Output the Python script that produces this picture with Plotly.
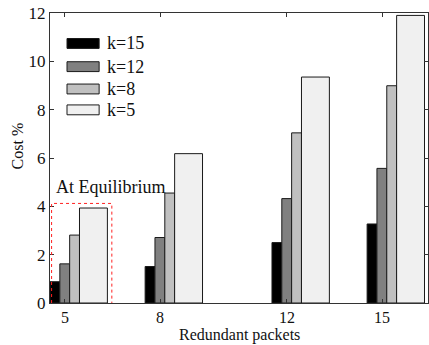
import plotly.graph_objects as go

# Redundant packets on the x axis, cost (%) per coding parameter k
redundant = [5, 8, 12, 15]
series_names = ["k=15", "k=12", "k=8", "k=5"]
cost_k15 = [0.88, 1.51, 2.50, 3.27]
cost_k12 = [1.62, 2.71, 4.32, 5.57]
cost_k8 = [2.81, 4.55, 7.04, 8.99]
cost_k5 = [3.93, 6.18, 9.35, 11.90]
y_ticks = [0, 2, 4, 6, 8, 10, 12]

series = [cost_k15, cost_k12, cost_k8, cost_k5]
fills = ["#000000", "#808080", "#c0c0c0", "#f0f0f0"]
offsets = [-0.47, -0.16, 0.15, 0.46]
widths = [0.31, 0.31, 0.31, 0.88]

FONT = "Liberation Serif, Times New Roman, serif"

fig = go.Figure()
for name, vals, col, off, w in zip(series_names, series, fills, offsets, widths):
    fig.add_trace(go.Bar(
        x=redundant, y=vals, name=name,
        offset=off, width=w,
        marker=dict(color=col, line=dict(color="#1a1a1a", width=1)),
        showlegend=False,
    ))

# hand-drawn legend with wide swatches
legend_y = [0.895, 0.815, 0.738, 0.666]
for name, col, yc in zip(series_names, fills, legend_y):
    fig.add_shape(type="rect", xref="paper", yref="paper",
                  x0=0.045, x1=0.13, y0=yc - 0.017, y1=yc + 0.017,
                  fillcolor=col, line=dict(color="#1a1a1a", width=1))
    fig.add_annotation(xref="paper", yref="paper", x=0.145, y=yc,
                       text=name, showarrow=False, xanchor="left",
                       yanchor="middle",
                       font=dict(family=FONT, size=18, color="#111"))

# equilibrium region marker (open at the bottom, on the axis)
eq_x0, eq_x1, eq_top = 4.58, 6.48, 4.12
fig.add_shape(type="path", xref="x", yref="y",
              path=f"M {eq_x0},0 L {eq_x0},{eq_top} L {eq_x1},{eq_top} L {eq_x1},0",
              line=dict(color="#ff2020", width=1, dash="dot"),
              layer="above")
fig.add_annotation(xref="x", yref="y", x=4.66, y=4.3,
                   text="At Equilibrium", showarrow=False,
                   xanchor="left", yanchor="bottom",
                   font=dict(family=FONT, size=18, color="#111"))

# axis titles
fig.add_annotation(xref="paper", yref="paper", x=0.5, y=0, yshift=-32,
                   text="Redundant packets", showarrow=False,
                   xanchor="center", yanchor="middle",
                   font=dict(family=FONT, size=16, color="#111"))
fig.add_annotation(xref="paper", yref="paper", x=0, xshift=-33, y=0.54,
                   text="Cost %", showarrow=False, textangle=-90,
                   xanchor="center", yanchor="middle",
                   font=dict(family=FONT, size=16, color="#111"))

fig.update_layout(
    width=429, height=345,
    margin=dict(l=50, r=1, t=13, b=42),
    paper_bgcolor="white", plot_bgcolor="white",
    barmode="overlay",
    font=dict(family=FONT, size=16, color="#111"),
    xaxis=dict(
        range=[4.53, 16.45], tickvals=redundant,
        ticks="inside", ticklen=4, tickcolor="#333",
        showline=True, linecolor="#333", linewidth=1, mirror="ticks",
        showgrid=False, zeroline=False,
        tickfont=dict(family=FONT, size=16),
    ),
    yaxis=dict(
        range=[0, 12], tickvals=y_ticks,
        ticks="inside", ticklen=4, tickcolor="#333",
        showline=True, linecolor="#333", linewidth=1, mirror="ticks",
        showgrid=False, zeroline=False,
        tickfont=dict(family=FONT, size=17),
    ),
)

fig.write_html("out.html")
